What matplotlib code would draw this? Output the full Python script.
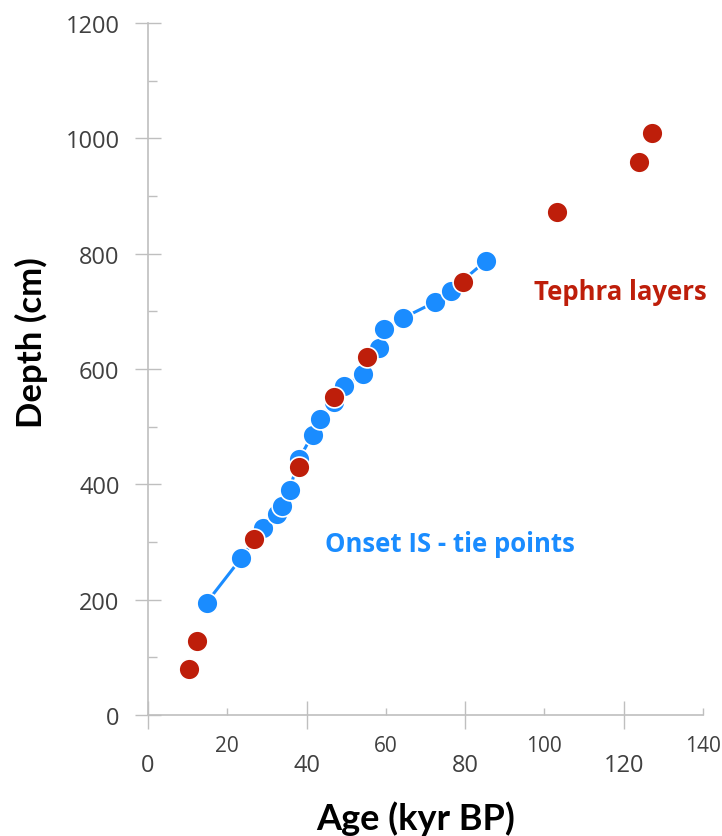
import numpy as np
import matplotlib.pyplot as plt
from matplotlib.ticker import MultipleLocator, FixedLocator

# Onset of interstadials (tie points), connected by a line
tie_age = [14.8, 23.5, 28.9, 32.5, 33.7, 35.7, 38.1, 41.5, 43.4, 46.8,
           49.4, 54.2, 58.3, 59.6, 64.2, 72.4, 76.4, 85.3]
tie_depth = [195, 272, 324, 349, 363, 391, 444, 486, 513, 542,
             570, 591, 636, 669, 688, 716, 736, 788]

# Tephra layers
teph_age = [10.4, 12.3, 26.8, 38.2, 46.9, 55.3, 79.4, 103.1, 123.9, 127.1]
teph_depth = [80, 129, 305, 430, 551, 621, 751, 872, 959, 1009]

xmajor = [0, 40, 80, 120]
xminor = [20, 60, 100, 140]

blue = '#1A8CFF'
red = '#BE1E0A'
grey = '#BFBFBF'
tickcol = '#404040'

fig = plt.figure(figsize=(7.22, 8.37), dpi=100)
ax = fig.add_axes([148/722, 121/837, 555/722, 692/837])

ax.plot(tie_age, tie_depth, '-', color=blue, lw=2.2, zorder=2)
ax.plot(tie_age, tie_depth, 'o', color=blue, ms=15, mec='white', mew=1.2, zorder=3)
ax.plot(teph_age, teph_depth, 'o', color=red, ms=15, mec='white', mew=1.2, zorder=4)

ax.set_xlim(0, 140)
ax.set_ylim(0, 1200)

for s in ['top', 'right']:
    ax.spines[s].set_visible(False)
for s in ['left', 'bottom']:
    ax.spines[s].set_color(grey)
    ax.spines[s].set_linewidth(1.2)

# y axis: crossing major ticks, small inside minor ticks
ax.yaxis.set_major_locator(MultipleLocator(200))
ax.yaxis.set_minor_locator(MultipleLocator(100))
ax.tick_params(axis='y', which='major', direction='inout', length=19, color=grey,
               width=1, labelsize=17, labelcolor=tickcol, pad=11)
ax.tick_params(axis='y', which='minor', direction='in', length=6.5, color=grey, width=1)

# x axis: labels are staggered between major and minor ticks
ax.xaxis.set_major_locator(FixedLocator(xmajor))
ax.xaxis.set_minor_locator(FixedLocator(xminor))
ax.set_xticklabels([str(v) for v in xmajor])
ax.set_xticklabels([str(v) for v in xminor], minor=True)
ax.tick_params(axis='x', which='major', direction='inout', length=20, color=grey,
               width=1, labelsize=17, labelcolor=tickcol, pad=17.5)
ax.tick_params(axis='x', which='minor', direction='in', length=5, color=grey,
               width=1, labelsize=15, labelcolor=tickcol, pad=14.5)
for lab in ax.get_xticklabels() + ax.get_yticklabels() + ax.get_xticklabels(minor=True):
    lab.set_family('Open Sans')

fig.text(416/722, 7/837, 'Age (kyr BP)', fontsize=26, fontweight='bold',
         family='Lato', ha='center', va='baseline')
fig.text(31/722, 1 - 343/837, 'Depth (cm)', fontsize=25, fontweight='bold',
         family='Lato', ha='center', va='center', rotation=90)

ax.text(44.6, 297, 'Onset IS - tie points', color=blue, fontsize=18.5,
        fontweight='bold', family='Open Sans', va='center')
ax.text(97.4, 735, 'Tephra layers', color=red, fontsize=18.5,
        fontweight='bold', family='Open Sans', va='center')

fig.savefig('out.png', dpi=100)
